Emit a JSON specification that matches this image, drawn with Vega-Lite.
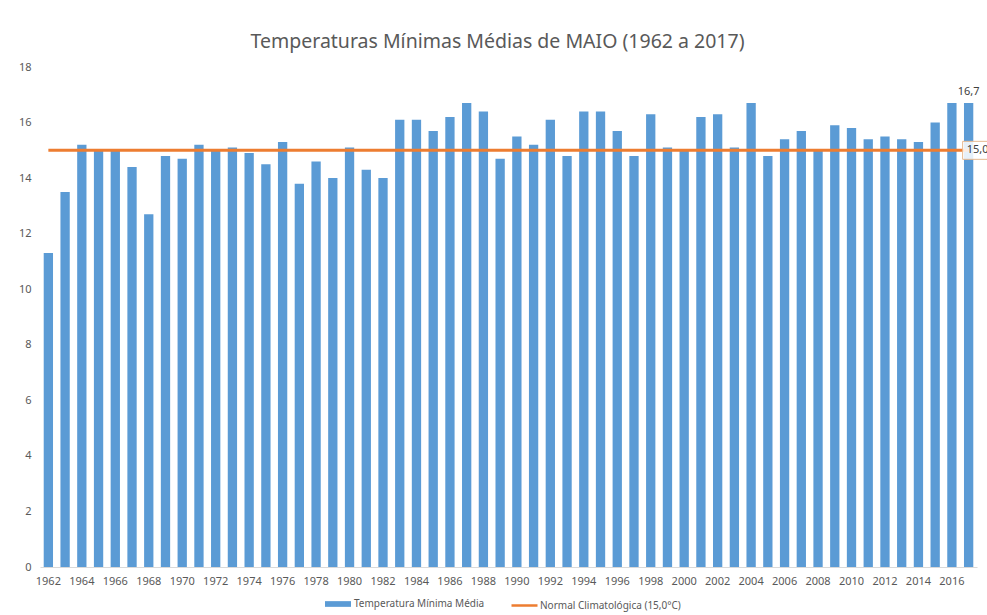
{
  "$schema": "https://vega.github.io/schema/vega-lite/v6.json",
  "width": 937,
  "height": 500,
  "autosize": "none",
  "padding": {"left": 40, "top": 67, "right": 10, "bottom": 48},
  "background": "white",
  "config": {
    "view": {"stroke": null},
    "font": "Noto Sans",
    "locale": {"number": {"decimal": ",", "thousands": ".", "grouping": [3], "currency": ["", " €"]}}
  },
  "title": {
    "text": "Temperaturas Mínimas Médias de MAIO (1962 a 2017)",
    "fontSize": 19.5,
    "font": "Noto Sans",
    "fontWeight": "normal",
    "color": "#595959",
    "anchor": "middle",
    "offset": 9,
    "dx": -11
  },
  "data": {
    "values": [
      {"year": 1962, "temp": 11.3, "normal": 15.0},
      {"year": 1963, "temp": 13.5, "normal": 15.0},
      {"year": 1964, "temp": 15.2, "normal": 15.0},
      {"year": 1965, "temp": 15.0, "normal": 15.0},
      {"year": 1966, "temp": 15.0, "normal": 15.0},
      {"year": 1967, "temp": 14.4, "normal": 15.0},
      {"year": 1968, "temp": 12.7, "normal": 15.0},
      {"year": 1969, "temp": 14.8, "normal": 15.0},
      {"year": 1970, "temp": 14.7, "normal": 15.0},
      {"year": 1971, "temp": 15.2, "normal": 15.0},
      {"year": 1972, "temp": 15.0, "normal": 15.0},
      {"year": 1973, "temp": 15.1, "normal": 15.0},
      {"year": 1974, "temp": 14.9, "normal": 15.0},
      {"year": 1975, "temp": 14.5, "normal": 15.0},
      {"year": 1976, "temp": 15.3, "normal": 15.0},
      {"year": 1977, "temp": 13.8, "normal": 15.0},
      {"year": 1978, "temp": 14.6, "normal": 15.0},
      {"year": 1979, "temp": 14.0, "normal": 15.0},
      {"year": 1980, "temp": 15.1, "normal": 15.0},
      {"year": 1981, "temp": 14.3, "normal": 15.0},
      {"year": 1982, "temp": 14.0, "normal": 15.0},
      {"year": 1983, "temp": 16.1, "normal": 15.0},
      {"year": 1984, "temp": 16.1, "normal": 15.0},
      {"year": 1985, "temp": 15.7, "normal": 15.0},
      {"year": 1986, "temp": 16.2, "normal": 15.0},
      {"year": 1987, "temp": 16.7, "normal": 15.0},
      {"year": 1988, "temp": 16.4, "normal": 15.0},
      {"year": 1989, "temp": 14.7, "normal": 15.0},
      {"year": 1990, "temp": 15.5, "normal": 15.0},
      {"year": 1991, "temp": 15.2, "normal": 15.0},
      {"year": 1992, "temp": 16.1, "normal": 15.0},
      {"year": 1993, "temp": 14.8, "normal": 15.0},
      {"year": 1994, "temp": 16.4, "normal": 15.0},
      {"year": 1995, "temp": 16.4, "normal": 15.0},
      {"year": 1996, "temp": 15.7, "normal": 15.0},
      {"year": 1997, "temp": 14.8, "normal": 15.0},
      {"year": 1998, "temp": 16.3, "normal": 15.0},
      {"year": 1999, "temp": 15.1, "normal": 15.0},
      {"year": 2000, "temp": 15.0, "normal": 15.0},
      {"year": 2001, "temp": 16.2, "normal": 15.0},
      {"year": 2002, "temp": 16.3, "normal": 15.0},
      {"year": 2003, "temp": 15.1, "normal": 15.0},
      {"year": 2004, "temp": 16.7, "normal": 15.0},
      {"year": 2005, "temp": 14.8, "normal": 15.0},
      {"year": 2006, "temp": 15.4, "normal": 15.0},
      {"year": 2007, "temp": 15.7, "normal": 15.0},
      {"year": 2008, "temp": 15.0, "normal": 15.0},
      {"year": 2009, "temp": 15.9, "normal": 15.0},
      {"year": 2010, "temp": 15.8, "normal": 15.0},
      {"year": 2011, "temp": 15.4, "normal": 15.0},
      {"year": 2012, "temp": 15.5, "normal": 15.0},
      {"year": 2013, "temp": 15.4, "normal": 15.0},
      {"year": 2014, "temp": 15.3, "normal": 15.0},
      {"year": 2015, "temp": 16.0, "normal": 15.0},
      {"year": 2016, "temp": 16.7, "normal": 15.0},
      {"year": 2017, "temp": 16.7, "normal": 15.0}
    ]
  },
  "encoding": {
    "x": {
      "field": "year",
      "type": "ordinal",
      "scale": {"paddingInner": 0.444, "paddingOuter": 0.222},
      "axis": {
        "title": null,
        "labelAngle": 0,
        "values": [1962,1964,1966,1968,1970,1972,1974,1976,1978,1980,1982,1984,1986,1988,1990,1992,1994,1996,1998,2000,2002,2004,2006,2008,2010,2012,2014,2016],
        "ticks": false,
        "domainColor": "#d9d9d9",
        "domainWidth": 1,
        "labelColor": "#595959",
        "labelFontSize": 11,
        "labelPadding": 8,
        "grid": false
      }
    }
  },
  "layer": [
    {
      "mark": {"type": "bar"},
      "encoding": {
        "y": {
          "field": "temp",
          "type": "quantitative",
          "scale": {"domain": [0, 18], "nice": false},
          "axis": {
            "title": null,
            "values": [0,2,4,6,8,10,12,14,16,18],
            "domain": false,
            "ticks": false,
            "grid": false,
            "labelColor": "#595959",
            "labelFontSize": 11,
            "labelPadding": 9
          }
        },
        "color": {
          "datum": "Temperatura Mínima Média",
          "scale": {"range": ["#5b9bd5"]},
          "legend": {
            "title": null,
            "orient": "none",
            "legendX": 285,
            "legendY": 524,
            "symbolType": "M-1,-0.22H1V0.22H-1Z",
            "symbolSize": 676,
            "symbolStrokeWidth": 0,
            "labelFontSize": 10,
            "labelColor": "#595959",
            "labelOffset": 3
          }
        }
      }
    },
    {
      "mark": {"type": "line", "strokeWidth": 3},
      "encoding": {
        "y": {"field": "normal", "type": "quantitative"},
        "stroke": {
          "datum": "Normal Climatológica (15,0°C)",
          "scale": {"range": ["#ed7d31"]},
          "legend": {
            "title": null,
            "orient": "none",
            "legendX": 470,
            "legendY": 524,
            "symbolType": "stroke",
            "symbolSize": 676,
            "symbolStrokeWidth": 2.5,
            "labelFontSize": 10,
            "labelColor": "#595959",
            "labelOffset": 1
          }
        }
      }
    },
    {
      "transform": [{"filter": "datum.year == 2017"}],
      "mark": {
        "type": "point",
        "shape": "M-0.3,-0.45H1.1V0.45H-0.3Z",
        "size": 1600,
        "filled": true,
        "fill": "white",
        "fillOpacity": 0.85,
        "stroke": "#e6b98f",
        "strokeWidth": 1,
        "opacity": 1
      },
      "encoding": {
        "y": {"field": "normal", "type": "quantitative"}
      }
    },
    {
      "transform": [{"filter": "datum.year == 2017"}],
      "mark": {"type": "text", "align": "left", "baseline": "middle", "dx": -2, "fontSize": 11, "color": "#404040"},
      "encoding": {
        "y": {"field": "normal", "type": "quantitative"},
        "text": {"field": "normal", "type": "quantitative", "format": ".1f"}
      }
    },
    {
      "transform": [{"filter": "datum.year == 2017"}],
      "mark": {"type": "text", "align": "center", "baseline": "bottom", "dy": -6, "fontSize": 11, "color": "#404040"},
      "encoding": {
        "y": {"field": "temp", "type": "quantitative"},
        "text": {"field": "temp", "type": "quantitative", "format": ".1f"}
      }
    }
  ]
}
